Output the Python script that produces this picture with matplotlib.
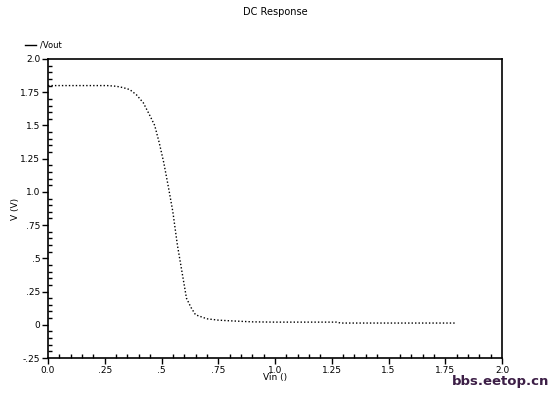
import matplotlib
matplotlib.use("Agg")
from matplotlib import pyplot as plt
from matplotlib.lines import Line2D
from matplotlib.ticker import MultipleLocator, FixedLocator

# DC sweep of the inverter output
vin = [0.0, 0.1, 0.2, 0.26, 0.3, 0.33, 0.36, 0.39, 0.42, 0.45, 0.47, 0.49,
       0.51, 0.53, 0.55, 0.57, 0.59, 0.61, 0.63, 0.65, 0.7, 0.75, 0.8, 0.9,
       1.0, 1.27, 1.29, 1.5, 1.8]
vout = [1.80, 1.80, 1.80, 1.80, 1.795, 1.785, 1.77, 1.73, 1.67, 1.57, 1.50, 1.37,
        1.22, 1.04, 0.85, 0.60, 0.40, 0.20, 0.13, 0.075, 0.045, 0.035, 0.03, 0.022,
        0.02, 0.02, 0.013, 0.013, 0.013]

xticks = [0.0, 0.25, 0.5, 0.75, 1.0, 1.25, 1.5, 1.75, 2.0]
xlabels = ["0.0", ".25", ".5", ".75", "1.0", "1.25", "1.5", "1.75", "2.0"]
yticks = [-0.25, 0.0, 0.25, 0.5, 0.75, 1.0, 1.25, 1.5, 1.75, 2.0]
ylabels = ["-.25", "0", ".25", ".5", ".75", "1.0", "1.25", "1.5", "1.75", "2.0"]

plt.rcParams['font.family'] = ['DejaVu Sans']
fs = 6.5

fig = plt.figure(figsize=(5.52, 3.93), dpi=100)
ax = fig.add_axes([48/552, 1-358/393, 454/552, 299/393])

ax.plot(vin, vout, color='black', linestyle=(0, (1, 1.5)), linewidth=1.0)

ax.set_xlim(0, 2.0)
ax.set_ylim(-0.25, 2.0)
ax.xaxis.set_major_locator(FixedLocator(xticks))
ax.set_xticklabels(xlabels, fontsize=fs)
ax.yaxis.set_major_locator(FixedLocator(yticks))
ax.set_yticklabels(ylabels, fontsize=fs)
ax.xaxis.set_minor_locator(MultipleLocator(0.05))
ax.yaxis.set_minor_locator(MultipleLocator(0.05))
ax.tick_params(which='major', direction='out', length=4, width=1, pad=1.5)
ax.tick_params(which='minor', direction='in', length=3, width=1)
ax.tick_params(top=False, right=False, which='both')
for s in ax.spines.values():
    s.set_linewidth(1.2)

ax.set_xlabel("Vin ()", fontsize=fs, labelpad=-1)
ax.set_ylabel("V (V)", fontsize=fs, labelpad=0)

fig.text(275/552, 1-12/393, "DC Response", ha='center', va='center', fontsize=fs+0.5)

# legend entry top left
fig.add_artist(Line2D([25/552, 36/552], [1-45/393, 1-45/393], color='black', linewidth=1))
fig.text(40/552, 1-45/393, "/Vout", ha='left', va='center', fontsize=fs-0.5)

# watermark
fig.text(549/552, 1-381/393, "bbs.eetop.cn", ha='right', va='center',
         fontsize=9.5, fontweight='bold', color='#3c1e46')

plt.savefig('out.png', dpi=100)
